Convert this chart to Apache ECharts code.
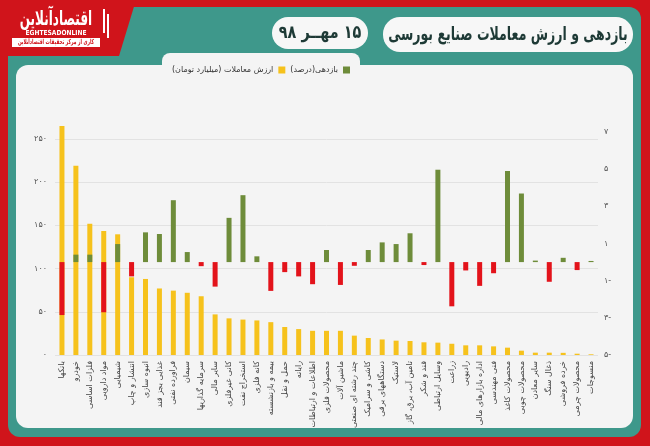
<!DOCTYPE html>
<html><head><meta charset="utf-8">
<script src="https://cdn.jsdelivr.net/npm/echarts@6/dist/echarts.min.js"></script>
<style>html,body{margin:0;padding:0;background:#D0141B;}#c{width:650px;height:446px;}</style>
</head><body><div id="c"></div>
<script>
const categories = ['بانکها','خودرو','فلزات اساسی','مواد دارویی','شیمیایی','انتشار و چاپ','انبوه سازی','غذایی بجز قند','فراورده نفتی','سیمان','سرمایه گذاریها','سایر مالی','کانی غیرفلزی','استخراج نفت','کانه فلزی','بیمه و بازنشسته','حمل و نقل','رایانه','اطلاعات و ارتباطات','محصولات فلزی','ماشین آلات','چند رشته ای صنعتی','کاشی و سرامیک','دستگاههای برقی','لاستیک','تامین آب، برق، گاز','قند و شکر','وسایل ارتباطی','زراعت','رادیویی','اداره بازارهای مالی','فنی مهندسی','محصولات کاغذ','محصولات چوبی','سایر معادن','ذغال سنگ','خرده فروشی','محصولات چرمی','منسوجات'];
const tradeValue = [265,219,152,143.5,139.7,90,88,77,74.5,72,68,47,42.4,41,40,38,32.4,30,28,28,28,22.4,19.7,18,16.6,16.2,14.7,14.3,13,11.2,11.2,10,8.5,5,2.7,2.7,2.5,1.5,0.8];
const returns = [-2.85,0.4,0.4,-2.7,0.97,-0.77,1.6,1.51,3.33,0.54,-0.22,-1.32,2.38,3.6,0.31,-1.55,-0.54,-0.77,-1.19,0.65,-1.23,-0.2,0.65,1.06,0.97,1.55,-0.16,4.97,-2.38,-0.45,-1.28,-0.6,4.9,3.69,0.08,-1.06,0.23,-0.43,0.06];
const leftTicks = [0,50,100,150,200,250];
const rightTicks = [-5,-3,-1,1,3,5,7];
const titleText = 'بازدهی و ارزش معاملات صنایع بورسی';
const dateText = '۱۵ مهــر ۹۸';
const seriesNames = ['ارزش معاملات (میلیارد تومان)', 'بازدهی(درصد)'];

const RLM = '\u200F';
function rtl(s){return RLM + s + RLM;}
function fa(n){return String(n).replace(/\d/g,d=>'۰۱۲۳۴۵۶۷۸۹'[d]);}
function faSigned(v){return v<0 ? fa(Math.abs(v))+'-' : fa(v);}

const YELLOW='#F6C21C', GREEN='#6E8C3A', RED='#E3131B', TEAL='#3E988B', BGRED='#D0141B', PANEL='#F4F4F4';
const FONT='DejaVu Sans';

const chart = echarts.init(document.getElementById('c'), null, {renderer:'canvas'});
chart.setOption({
  backgroundColor: BGRED,
  animation:false,
  textStyle:{fontFamily:FONT},
  graphic:[
    {type:'rect', z:-10, shape:{x:8,y:7,width:633,height:430,r:12}, style:{fill:TEAL}},
    {type:'polygon', z:-9, shape:{points:[[0,0],[136,0],[119,56],[0,56]]}, style:{fill:BGRED}},
    {type:'rect', z:-8, shape:{x:16,y:65,width:617,height:363,r:12}, style:{fill:PANEL}},
    {type:'rect', z:-8, shape:{x:162,y:53,width:198,height:24,r:[8,8,0,0]}, style:{fill:PANEL}},
    {type:'rect', z:-7, shape:{x:383,y:17,width:250,height:35,r:17}, style:{fill:'#F7F7F7'}},
    {type:'rect', z:-7, shape:{x:272,y:17,width:96,height:32,r:16}, style:{fill:'#F7F7F7'}},
    {type:'text', z:-6, x:508, y:35, scaleX:0.66, style:{text:rtl(titleText), x:0, y:0, align:'center', verticalAlign:'middle', font:'bold 19px "DejaVu Sans"', fill:'#1E3A36'}},
    {type:'text', z:-6, x:320, y:33, scaleX:0.8, style:{text:rtl(dateText), x:0, y:0, align:'center', verticalAlign:'middle', font:'bold 18px "DejaVu Sans"', fill:'#1E3A36'}},
    {type:'text', z:-6, x:56, y:20, scaleX:0.6, style:{text:rtl('اقتصادآنلاین'), x:0, y:0, align:'center', verticalAlign:'middle', font:'bold 20px "DejaVu Sans"', fill:'#FFFFFF'}},
    {type:'rect', z:-6, shape:{x:103,y:9,width:2,height:24}, style:{fill:'#FFFFFF'}},
    {type:'rect', z:-6, shape:{x:107,y:14,width:2,height:24}, style:{fill:'#FFFFFF'}},
    {type:'text', z:-6, x:56, y:33.5, scaleX:0.85, style:{text:'EGHTESADONLINE', x:0, y:0, align:'center', verticalAlign:'middle', font:'bold 7px "DejaVu Sans"', fill:'#FFFFFF'}},
    {type:'rect', z:-6, shape:{x:12,y:38,width:88,height:9}, style:{fill:'#FFFFFF'}},
    {type:'text', z:-5, x:56, y:42.5, scaleX:0.62, style:{text:rtl('کاری از مرکز تحقیقات اقتصادآنلاین'), x:0, y:0, align:'center', verticalAlign:'middle', font:'bold 7px "DejaVu Sans"', fill:BGRED}}
  ],
  legend:{
    left:167, top:61, itemWidth:7, itemHeight:7, itemGap:5, align:'right',
    textStyle:{fontSize:8, color:'#333', fontFamily:FONT},
    formatter: n => rtl(n),
    data:[
      {name:seriesNames[0], icon:'rect', itemStyle:{color:YELLOW}},
      {name:seriesNames[1], icon:'rect', itemStyle:{color:GREEN}}
    ]
  },
  grid:[
    {left:55, right:52, top:139, bottom:91},
    {left:55, right:52, top:132, bottom:91}
  ],
  xAxis:[
    {type:'category', gridIndex:0, data:categories, axisLine:{show:false}, axisTick:{show:false},
     axisLabel:{rotate:90, interval:0, fontSize:8, color:'#444', margin:6, fontFamily:FONT, formatter:v=>rtl(v)}},
    {type:'category', gridIndex:1, data:categories, axisLine:{show:false}, axisTick:{show:false}, axisLabel:{show:false}}
  ],
  yAxis:[
    {type:'value', gridIndex:0, min:leftTicks[0], max:leftTicks[leftTicks.length-1], interval:50,
     axisLine:{show:false}, axisTick:{show:false},
     axisLabel:{fontSize:8, color:'#555', margin:8, formatter:v=>fa(v)},
     splitLine:{lineStyle:{color:'#E2E2E2'}}},
    {type:'value', gridIndex:1, position:'right', min:rightTicks[0], max:rightTicks[rightTicks.length-1], interval:1,
     axisLine:{show:false}, axisTick:{show:false}, splitLine:{show:false},
     axisLabel:{fontSize:8, color:'#555', margin:6, formatter:v=>(rightTicks.indexOf(v)>=0 ? faSigned(v) : '')}}
  ],
  series:[
    {name:seriesNames[0], type:'bar', xAxisIndex:0, yAxisIndex:0, data:tradeValue, barWidth:5, clip:false,
     itemStyle:{color:YELLOW}, z:2},
    {name:seriesNames[1], type:'bar', xAxisIndex:1, yAxisIndex:1, data:returns, barWidth:5, clip:false,
     itemStyle:{color:p=>p.value>=0?GREEN:RED}, z:3}
  ]
});
</script></body></html>
